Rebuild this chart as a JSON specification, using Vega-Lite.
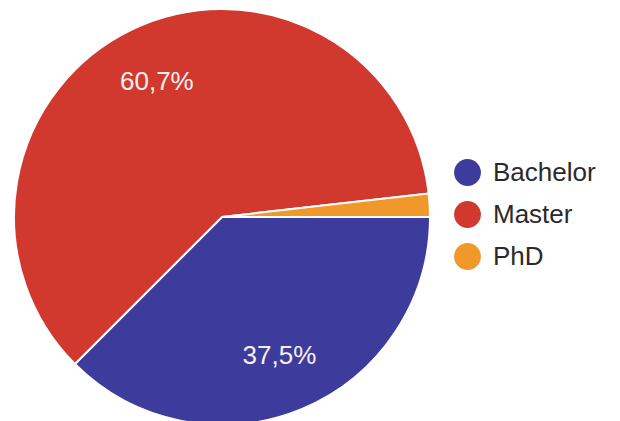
{
  "$schema": "https://vega.github.io/schema/vega-lite/v6.json",
  "width": 444,
  "height": 434,
  "autosize": {"type": "none"},
  "padding": {"left": 0, "top": 0, "right": 176, "bottom": 0},
  "background": "white",
  "config": {"view": {"stroke": null}, "font": "Liberation Sans"},
  "data": {
    "values": [
      {"degree": "Bachelor", "share": 37.5, "label": "37,5%", "order": 1},
      {"degree": "Master", "share": 60.7, "label": "60,7%", "order": 2},
      {"degree": "PhD", "share": 1.8, "label": "", "order": 3}
    ]
  },
  "encoding": {
    "theta": {"field": "share", "type": "quantitative", "stack": true, "scale": {"range": [1.5708, 7.854]}},
    "order": {"field": "order", "type": "quantitative"},
    "color": {
      "field": "degree",
      "type": "nominal",
      "scale": {"domain": ["Bachelor", "Master", "PhD"], "range": ["#3d3b9c", "#d2392e", "#f0982a"]},
      "legend": {
        "title": null,
        "orient": "none",
        "legendX": 454,
        "legendY": 159,
        "symbolType": "circle",
        "symbolSize": 720,
        "symbolStrokeWidth": 0,
        "labelFontSize": 26,
        "labelColor": "#2a2a2a",
        "labelOffset": 12,
        "rowPadding": 15,
        "labelFont": "Liberation Sans"
      }
    }
  },
  "layer": [
    {"mark": {"type": "arc", "outerRadius": 208, "stroke": "white", "strokeWidth": 2}},
    {
      "mark": {"type": "text", "radius": 150, "fontSize": 26, "font": "Liberation Sans"},
      "encoding": {"text": {"field": "label"}, "color": {"value": "#f6f0f0"}}
    }
  ]
}
